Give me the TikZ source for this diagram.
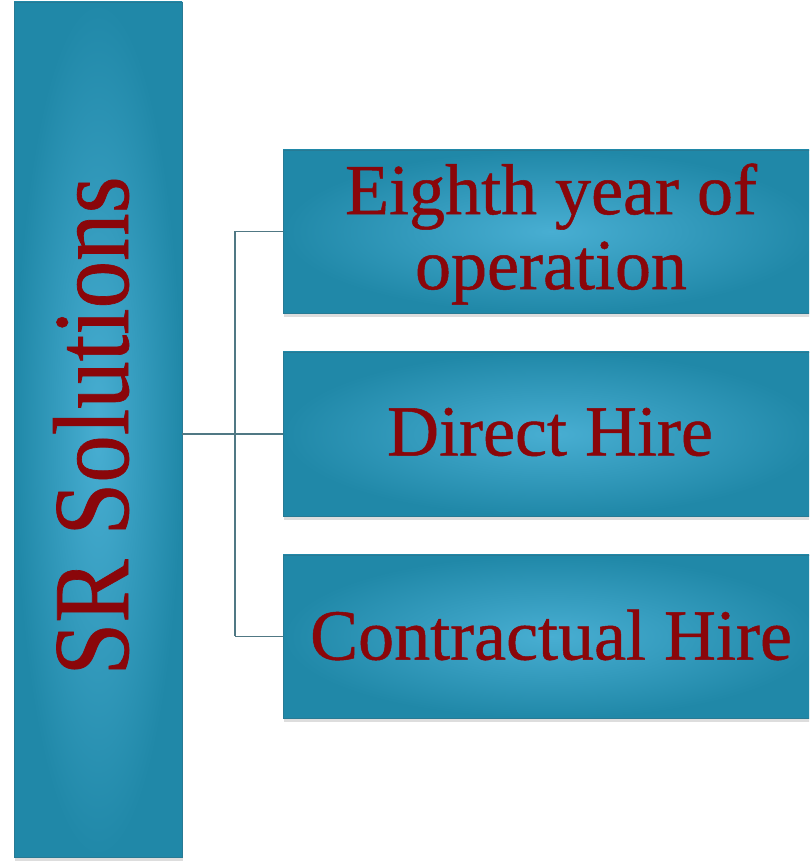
\documentclass[tikz,border=0pt]{standalone}
\usepackage{fontspec}
\setmainfont{Liberation Serif}
\newfontfamily\boxfont{Liberation Serif}[FakeBold=0.7]
\usetikzlibrary{shadows}
\definecolor{boxouter}{RGB}{32,136,168}
\definecolor{boxinner}{RGB}{72,174,210}
\definecolor{boxedge}{RGB}{40,122,148}
\definecolor{txtred}{RGB}{138,6,10}
\definecolor{linkcol}{RGB}{80,120,132}
\tikzset{
  tealbox/.style={rectangle, inner color=boxinner, outer color=boxouter,
    draw=boxedge, line width=0.8pt, inner sep=0pt,
    drop shadow={shadow xshift=1pt, shadow yshift=-4pt, opacity=0.22, fill=black!60}},
  itemtext/.style={text=txtred, font=\boxfont\fontsize{72}{75}\selectfont, align=center},
  link/.style={draw=linkcol, line width=1.4pt}
}
\begin{document}
\begin{tikzpicture}[x=1pt,y=1pt]
\useasboundingbox (0,0) rectangle (809,864);
\clip (0,0) rectangle (809,864);
\fill[white] (0,0) rectangle (809,864);
\node[tealbox, minimum width=168pt, minimum height=855pt] (root) at (98,434.5) {};
\node[tealbox, minimum width=536pt, minimum height=163pt] (b1) at (551,632.5) {};
\node[tealbox, minimum width=536pt, minimum height=164pt] (b2) at (551,430) {};
\node[tealbox, minimum width=536pt, minimum height=163pt] (b3) at (551,227.5) {};
\node[text=txtred, rotate=90, anchor=base, inner sep=0pt] (roottext) at (128,438)
  {\scalebox{0.88}[1]{\boxfont\fontsize{108}{110}\selectfont SR Solutions}};
\node[itemtext] (t1) at (551,630) {Eighth year of\\operation};
\node[itemtext] (t2) at (550,432) {Direct Hire};
\node[itemtext] (t3) at (551,229) {Contractual Hire};
\coordinate (j) at (235,430);
\draw[link] (root.east |- b2.west) -- (b2.west);
\draw[link] (j |- b1.west) -- (j |- b3.west);
\draw[link] (j |- b1.west) -- (b1.west);
\draw[link] (j |- b3.west) -- (b3.west);
\end{tikzpicture}
\end{document}
